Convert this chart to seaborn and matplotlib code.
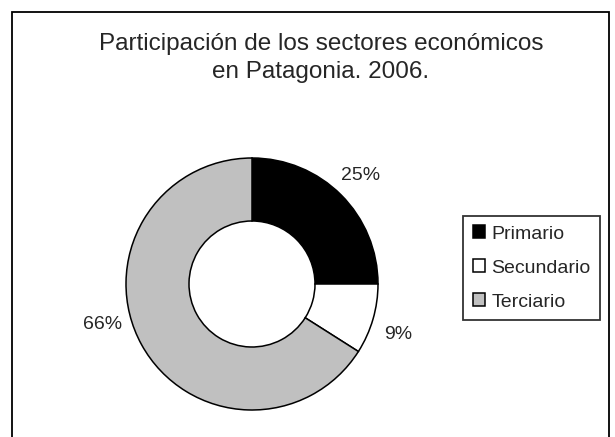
import matplotlib
matplotlib.use("Agg")
import matplotlib.pyplot as plt
import seaborn as sns
import numpy as np
from matplotlib.patches import Rectangle

# Data
sectores = ["Primario", "Secundario", "Terciario"]
valores = [25, 9, 66]
colores = ["#000000", "#FFFFFF", "#C0C0C0"]
titulo = "Participación de los sectores económicos\nen Patagonia. 2006."

sns.set_style("white")
plt.rcParams["font.family"] = ["Liberation Sans", "DejaVu Sans"]

fig = plt.figure(figsize=(6.15, 4.37), dpi=100)

# outer frame of the chart (bottom edge falls outside the image)
fig.patches.append(Rectangle((12 / 615, -0.05), 597 / 615, 0.05 + 425 / 437,
                             transform=fig.transFigure, fill=False,
                             edgecolor="black", linewidth=1.3))

fig.text(0.522, 0.867, titulo, ha="center", va="center", fontsize=17.5,
         linespacing=1.38)

# donut centre ~ (252, 284) px, radius ~126 px
ax = fig.add_axes([126 / 615, 27 / 437, 252 / 615, 252 / 437])
wedges, texts = ax.pie(
    valores, colors=colores, startangle=90, counterclock=False,
    labels=[f"{v}%" for v in valores], labeldistance=1.22,
    wedgeprops=dict(width=0.5, edgecolor="black", linewidth=1.1),
    textprops=dict(fontsize=14),
)
for t in texts:
    t.set_ha("center")
    t.set_va("center")
# best-fit style placement used by the original chart
for t, a in zip(texts[1:], [-19, 195]):
    ang = np.deg2rad(a)
    t.set_position((1.23 * np.cos(ang), 1.23 * np.sin(ang)))
ax.set_xlim(-1, 1)
ax.set_ylim(-1, 1)
ax.set_aspect("equal")

leg = ax.legend(wedges, sectores, loc="center left",
                bbox_to_anchor=(463 / 615, 169 / 437), bbox_transform=fig.transFigure,
                fontsize=14, frameon=True, fancybox=False, edgecolor="black",
                handlelength=0.65, handleheight=0.65, handletextpad=0.3,
                labelspacing=0.85, borderpad=0.5, borderaxespad=0)
leg.get_frame().set_linewidth(1.3)

fig.savefig("out.png", dpi=100)
